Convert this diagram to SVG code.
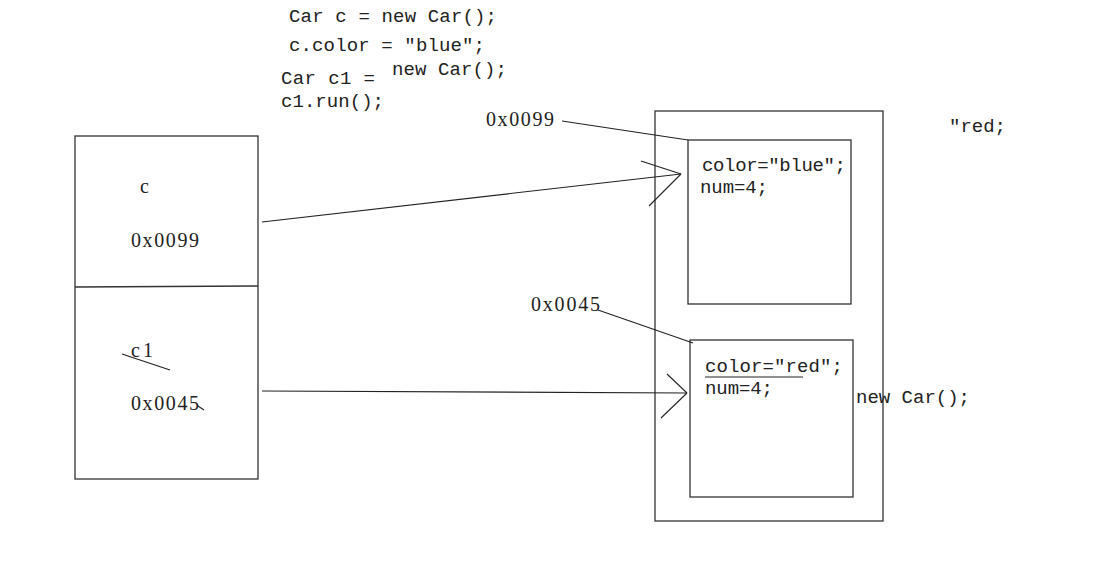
<svg xmlns="http://www.w3.org/2000/svg" width="1113" height="570" viewBox="0 0 1113 570">
<style>
.box{fill:none;stroke:#333;stroke-width:1.3}
.ln{fill:none;stroke:#222;stroke-width:1.1}
.code{font-family:"Liberation Mono","DejaVu Sans Mono",monospace;font-size:19px;fill:#222}
.addr{font-family:"Liberation Serif","DejaVu Serif",serif;font-size:20px;fill:#222}
</style>
<rect width="1113" height="570" fill="#fff"/>
<g id="code">
<text class="code" x="289" y="22" textLength="208">Car c = new Car();</text>
<text class="code" x="289" y="51" textLength="196">c.color = ″blue″;</text>
<text class="code" x="281" y="84" textLength="94">Car c1 =</text>
<text class="code" x="392" y="75" textLength="115">new Car();</text>
<text class="code" x="281" y="107" textLength="103">c1.run();</text>
<text class="code" x="949" y="132" textLength="57">″red;</text>
</g>
<g id="stack">
<rect class="box" x="75" y="136" width="183" height="343"/>
<line class="box" x1="75" y1="287" x2="258" y2="286"/>
<text class="addr" x="140" y="193" font-size="17">c</text>
<text class="addr" x="131" y="247" textLength="68">0x0099</text>
<text class="addr" x="131" y="357" textLength="22">c1</text>
<line class="ln" x1="122" y1="354" x2="170" y2="370"/>
<text class="addr" x="131" y="410" textLength="68">0x0045</text>
<line class="ln" x1="198" y1="406" x2="204" y2="410"/>
</g>
<g id="heap">
<rect class="box" x="655" y="111" width="228" height="410"/>
</g>
<g id="obj1">
<rect class="box" x="688" y="140" width="163" height="164"/>
<text class="code" x="702" y="171" textLength="144">color=″blue″;</text>
<text class="code" x="700" y="193" textLength="68">num=4;</text>
</g>
<g id="obj2">
<rect class="box" x="690" y="340" width="163" height="157"/>
<text class="code" x="705" y="372" textLength="138">color=″red″;</text>
<line class="ln" x1="705" y1="377" x2="803" y2="377"/>
<text class="code" x="705" y="394" textLength="68">num=4;</text>
</g>
<g id="labels">
<text class="addr" x="486" y="126" textLength="68">0x0099</text>
<text class="addr" x="531" y="311" textLength="69">0x0045</text>
<text class="code" x="856" y="403" textLength="114">new Car();</text>
</g>
<g id="connectors">
<line class="ln" x1="562" y1="121" x2="688" y2="140"/>
<line class="ln" x1="598" y1="310" x2="693" y2="343"/>
<line class="ln" x1="262" y1="222" x2="681" y2="174"/>
<line class="ln" x1="641" y1="161" x2="681" y2="174"/>
<line class="ln" x1="649" y1="206" x2="681" y2="174"/>
<line class="ln" x1="262" y1="391" x2="686" y2="393"/>
<line class="ln" x1="667" y1="374" x2="687" y2="393"/>
<line class="ln" x1="661" y1="418" x2="687" y2="393"/>
</g>
</svg>
